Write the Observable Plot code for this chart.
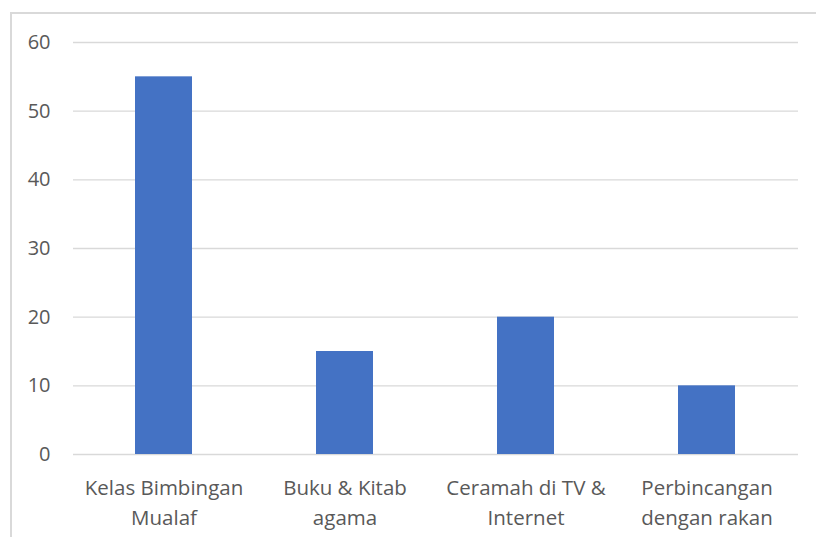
<!DOCTYPE html>
<html><head><meta charset="utf-8">
<script src="https://cdn.jsdelivr.net/npm/d3@7"></script>
<script src="https://cdn.jsdelivr.net/npm/@observablehq/plot@0.6"></script>
<style>
html,body{margin:0;padding:0;background:#fff;overflow:hidden;}
#wrap{position:relative;width:816px;height:537px;}
#frame{position:absolute;left:10px;top:12px;width:820px;height:540px;border:2px solid #d9d9d9;box-sizing:border-box;}
#chart{position:absolute;left:0;top:0;}
</style></head>
<body>
<div id="wrap"><div id="frame"></div><div id="chart"></div></div>
<script>
const categories = ["Kelas Bimbingan\nMualaf", "Buku & Kitab\nagama", "Ceramah di TV &\nInternet", "Perbincangan\ndengan rakan"];
const values = [55, 15, 20, 10];
const yTicks = [0, 10, 20, 30, 40, 50, 60];
const data = categories.map((c, i) => ({category: c, value: values[i]}));

const chart = Plot.plot({
  width: 816,
  height: 537,
  marginLeft: 73,
  marginRight: 18,
  marginTop: 42,
  marginBottom: 83,
  style: {fontFamily: "'Open Sans', 'Noto Sans', sans-serif", fontSize: "20.5px", color: "#595959", background: "transparent"},
  x: {domain: categories, paddingInner: 0.685, paddingOuter: 0.3425, label: null},
  y: {domain: [0, 60], label: null},
  marks: [
    Plot.ruleY(yTicks, {stroke: "#d9d9d9", strokeWidth: 1.3}),
    Plot.barY(data, {x: "category", y: "value", fill: "#4472C4"}),
    Plot.axisY({ticks: yTicks, tickSize: 0, tickPadding: 23, fontSize: 20, fill: "#595959", label: null}),
    Plot.axisX({tickSize: 0, tickPadding: 19, fontSize: 20.5, fill: "#595959", lineHeight: 1.47, label: null})
  ]
});
document.getElementById("chart").appendChild(chart);
</script>
</body></html>
